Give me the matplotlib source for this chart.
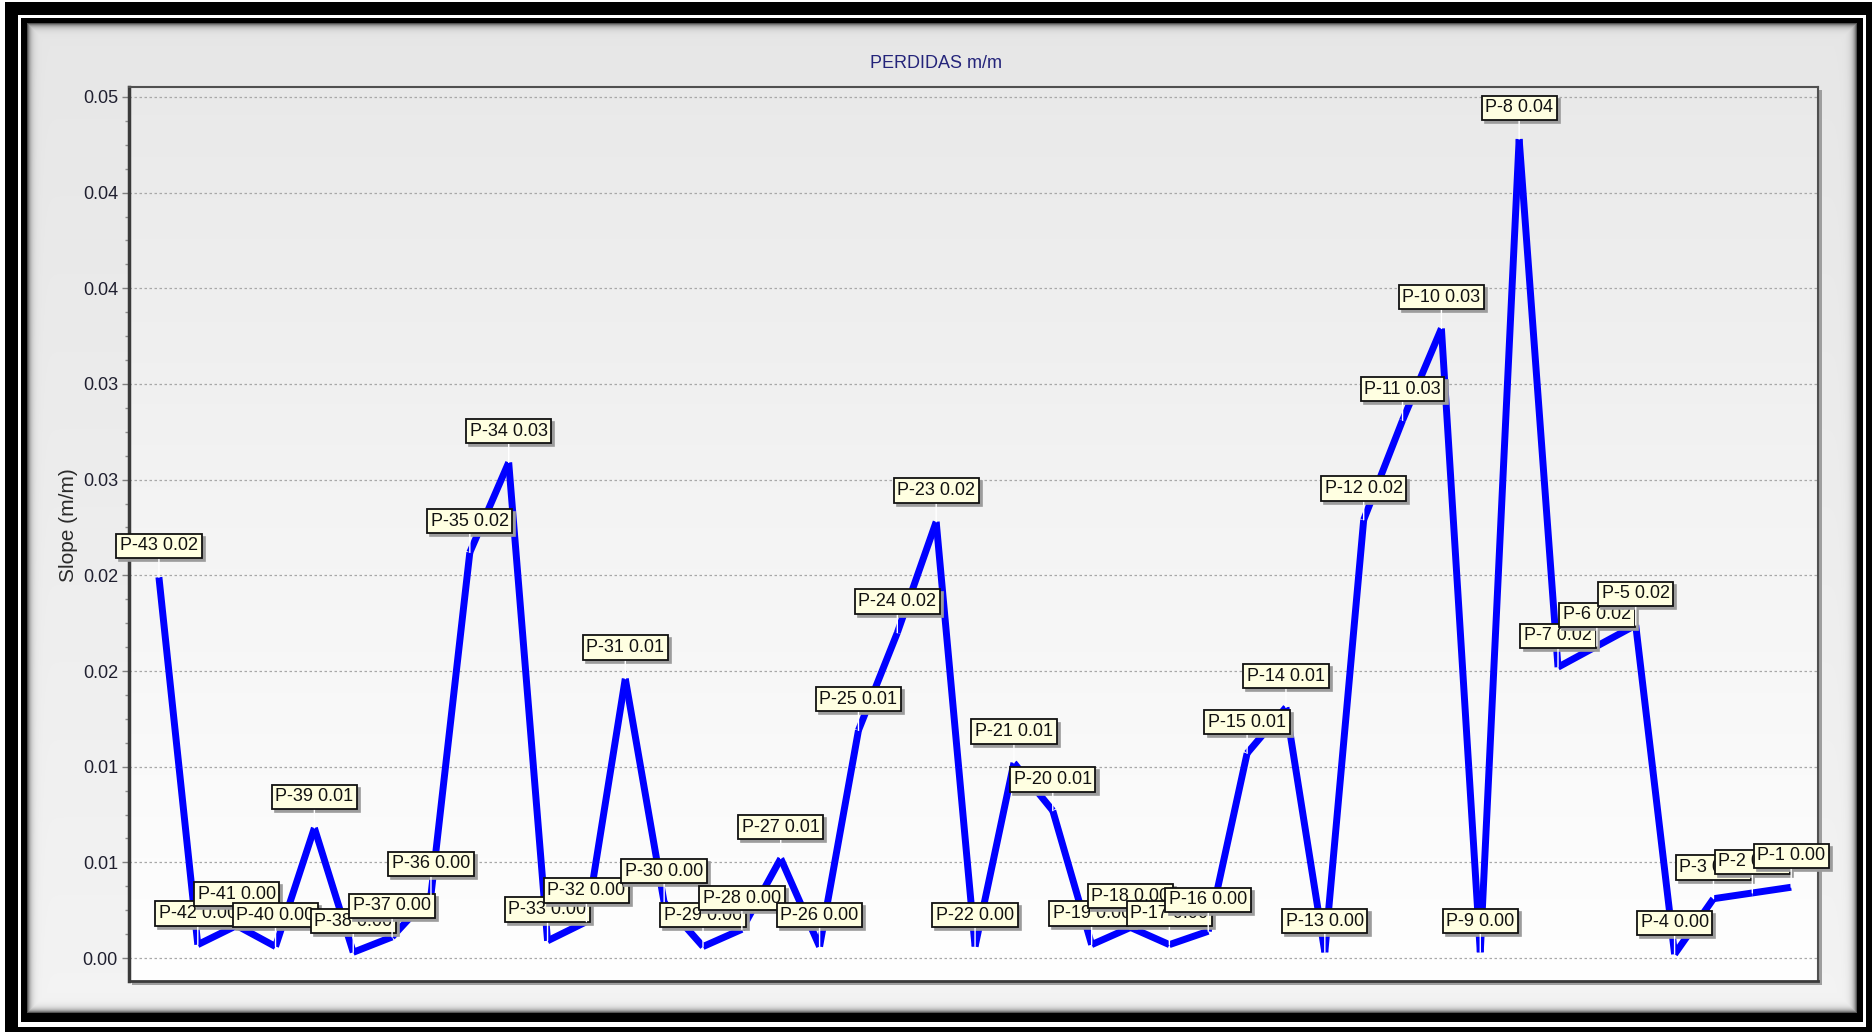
import numpy as np
import matplotlib
matplotlib.use('Agg')
import matplotlib.pyplot as plt
from matplotlib.collections import LineCollection
from matplotlib.ticker import FuncFormatter, MultipleLocator
from decimal import Decimal, ROUND_HALF_UP

plt.rcParams['font.family'] = ['Liberation Sans', 'DejaVu Sans']

# pipe ids, upstream to downstream
pipes = ['P-%d' % n for n in range(43, 0, -1)]

# friction slope per pipe (m/m), same order as pipes
slopes = [
    0.0199, 0.0007, 0.0017, 0.0006, 0.0068, 0.0003, 0.0011, 0.0033,  # P-43 .. P-36
    0.0212, 0.0259, 0.0009, 0.0019, 0.0146, 0.0029, 0.0006, 0.0015,  # P-35 .. P-28
    0.0052, 0.0006, 0.0119, 0.0170, 0.0228, 0.0006, 0.0102, 0.0077,  # P-27 .. P-20
    0.0007, 0.0016, 0.0007, 0.0014, 0.0107, 0.0131, 0.0003, 0.0229,  # P-19 .. P-12
    0.0281, 0.0329, 0.0003, 0.0428, 0.0152, 0.0163, 0.0174, 0.0002,  # P-11 .. P-4
    0.0031, 0.0034, 0.0037,                                          # P-3 .. P-1
]

y_ticks = [0.0, 0.005, 0.01, 0.015, 0.02, 0.025, 0.03, 0.035, 0.04, 0.045]

title = 'PERDIDAS m/m'
y_title = 'Slope (m/m)'

W, H, DPI = 1872, 1032, 100
AX_BOX = (129, 87, 1818, 981)  # left, top, right, bottom in pixels
LABEL_OFF = 22.5               # points between a point and its mark centre


def two_dec(v):
    # report-style rounding (half up), 0.005 -> 0.01
    d = Decimal('%.6f' % float(v))
    return str(d.quantize(Decimal('0.01'), rounding=ROUND_HALF_UP))


def frame_image():
    img = np.ones((H, W))
    img[2:H, 5:W] = 0.0
    img[15:H - 5, 18:W - 6] = 1.0
    img[18:H - 10, 21:W - 9] = 0.0

    # inner panel: soft vertical gradient with a dark inset shadow
    px0, py0, px1, py1 = 27, 23, W - 15, H - 19
    yy, xx = np.mgrid[py0:py1, px0:px1]
    base = 0.905 + 0.05 * (yy - py0) / (py1 - py0)
    d = np.minimum.reduce([xx - px0, yy - py0, px1 - 1 - xx, py1 - 1 - yy]).astype(float)
    img[py0:py1, px0:px1] = base * (1 - 0.65 * np.exp(-d / 3.0))

    # plot area drop shadow, then the plot area gradient
    l, t, r, b = AX_BOX
    img[t + 3:b + 4, l + 3:r + 4] = 0.62
    yy = np.arange(t, b)[:, None]
    img[t:b, l:r] = 0.915 + 0.085 * (yy - t) / (b - t)
    return np.dstack([img] * 3)


fig = plt.figure(figsize=(W / DPI, H / DPI), dpi=DPI)

bg = fig.add_axes([0, 0, 1, 1], zorder=-10)
bg.imshow(frame_image(), extent=(0, 1, 0, 1), aspect='auto', interpolation='nearest')
bg.set_xlim(0, 1)
bg.set_ylim(0, 1)
bg.axis('off')

l, t, r, b = AX_BOX
ax = fig.add_axes([l / W, 1 - b / H, (r - l) / W, (b - t) / H])
ax.set_facecolor('none')

x = np.arange(len(slopes))
pts = np.column_stack([x, slopes])
segs = np.stack([pts[:-1], pts[1:]], axis=1)
ax.add_collection(LineCollection(segs, colors='#0000ff', linewidths=5,
                                 capstyle='butt', zorder=3))

ax.set_xlim(-0.77, len(slopes) - 1 + 0.69)
ax.set_ylim(-0.0012, 0.04552)

ax.set_xticks([])
ax.set_yticks(y_ticks)
ax.yaxis.set_major_formatter(FuncFormatter(lambda v, p: two_dec(v)))
ax.yaxis.set_minor_locator(MultipleLocator(0.00125))
ax.tick_params(axis='y', which='major', length=5, width=1, color='#808080',
               labelsize=13, labelcolor='#202030', pad=3)
ax.tick_params(axis='y', which='minor', length=3, width=1, color='#909090')

ax.set_axisbelow(True)
ax.yaxis.grid(True, color='#a8a8a8', linestyle=(0, (2, 2)), linewidth=0.9)

for side, lw, c in [('left', 2.5, '#3a3a3a'), ('bottom', 2.0, '#3a3a3a'),
                    ('top', 1.5, '#505050'), ('right', 1.5, '#505050')]:
    ax.spines[side].set_linewidth(lw)
    ax.spines[side].set_color(c)

ax.set_ylabel(y_title, fontsize=15, color='#2a2a2a')
ax.yaxis.set_label_coords(-0.030, 0.51)

fig.text(936 / W, 1 - 63 / H, title, ha='center', va='center',
         fontsize=13, color='#24247a')

# value marks, later pipes drawn on top of earlier ones
for i, (name, v) in enumerate(zip(pipes, slopes)):
    txt = '%s %s' % (name, two_dec(v))
    ax.annotate(txt, (i, v), xytext=(2.2, LABEL_OFF - 2.2), textcoords='offset points',
                ha='center', va='center', fontsize=13, color='#9c9c9c',
                bbox=dict(boxstyle='square,pad=0.2', fc='#9c9c9c', ec='#9c9c9c', lw=1.2),
                zorder=10 + 2 * i, annotation_clip=False)
    ax.annotate(txt, (i, v), xytext=(0, LABEL_OFF), textcoords='offset points',
                ha='center', va='center', fontsize=13, color='#111111',
                bbox=dict(boxstyle='square,pad=0.2', fc='#ffffe1', ec='#111111', lw=1.3),
                arrowprops=dict(arrowstyle='-', color='white', lw=1,
                                shrinkA=0, shrinkB=0),
                zorder=11 + 2 * i, annotation_clip=False)

fig.savefig('out.png', dpi=DPI)
